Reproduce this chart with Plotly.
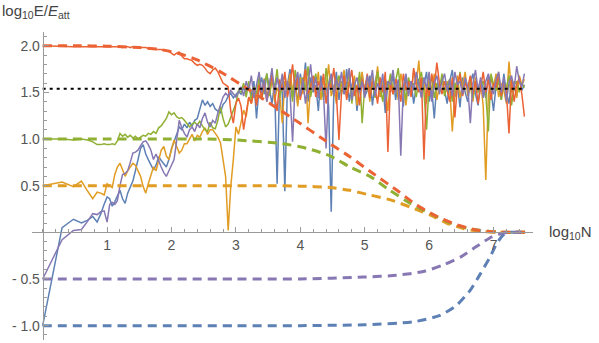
import numpy as np
import plotly.graph_objects as go

# sample positions (log10 N): first ten integer N, then an even grid in log10 N
log_n_start = np.log10(np.arange(1, 11))
log_n_grid = np.round(np.arange(1.04, 7.481, 0.04), 2)
log_n = np.concatenate([log_n_start, log_n_grid])

# simulated runs
blue_run = [-1.0, 0.05, 0.14, 0.10, 0.13, 0.17, 0.11, 0.20, 0.30, 0.38,
    0.36, 0.28, 0.33, 0.40, 0.45, 0.36, 0.31, 0.42, 0.49, 0.55,
    0.66, 0.80, 0.90, 0.94, 0.84, 0.78, 0.73, 0.67, 0.72, 0.81,
    0.77, 0.74, 0.70, 0.78, 0.90, 0.97, 1.05, 1.13, 1.10, 1.16,
    1.12, 1.18, 1.14, 1.20, 1.22, 1.32, 1.42, 1.36, 1.40, 1.35,
    1.38, 1.32, 1.30, 1.28, 1.37, 1.40, 1.46, 1.49, 1.44, 1.47,
    1.51, 1.48, 1.55, 1.50, 1.58, 1.46, 1.62, 1.22, 1.55, 1.66,
    1.48, 1.70, 1.55, 1.38, 1.60, 0.52, 1.62, 1.50, 0.44, 1.58,
    1.75, 1.45, 1.62, 1.38, 1.70, 1.52, 1.82, 1.40, 1.66, 1.50,
    1.58, 1.30, 1.68, 1.45, 1.60, 1.35, 0.22, 1.50, 1.72, 1.42,
    1.62, 1.48, 1.75, 1.40, 1.58, 1.66, 1.30, 1.55, 1.70, 1.46,
    1.52, 1.68, 1.36, 1.60, 1.74, 1.45, 1.58, 1.28, 1.62, 1.50,
    1.70, 1.42, 1.60, 1.54, 1.35, 1.68, 1.50, 1.62, 1.38, 1.56,
    1.64, 1.46, 1.58, 1.72, 1.40, 1.55, 1.22, 1.60, 1.48, 1.66,
    1.52, 1.38, 1.62, 1.74, 1.45, 1.58, 1.34, 1.66, 1.50, 1.40,
    1.60, 1.70, 1.48, 1.36, 1.62, 1.55, 1.44, 1.68, 1.52, 1.30,
    1.58, 1.64, 1.42, 1.70, 1.50, 1.38, 1.62, 1.56, 1.46, 1.66,
    1.52, 1.58]

orange_run = [0.50, 0.54, 0.49, 0.55, 0.44, 0.36, 0.43, 0.42, 0.40, 0.52,
    0.50, 0.48, 0.62, 0.70, 0.74, 0.66, 0.60, 0.66, 0.70, 0.74,
    0.72, 0.66, 0.60, 0.49, 0.42, 0.52, 0.62, 0.70, 0.66, 0.76,
    0.88, 0.92, 0.82, 0.78, 0.90, 0.99, 0.92, 0.85, 0.88, 0.95,
    0.95, 1.00, 1.05, 0.98, 1.04, 1.02, 1.08, 1.12, 1.05, 1.10,
    1.10, 1.06, 1.02, 0.96, 0.78, 0.60, 0.02, 0.49, 0.78, 1.13,
    1.05, 1.20, 1.31, 1.24, 1.45, 1.38, 1.55, 1.42, 1.60, 1.50,
    1.65, 1.45, 1.58, 1.72, 1.40, 1.55, 1.48, 1.17, 1.62, 1.50,
    1.70, 1.52, 1.60, 1.35, 1.66, 1.48, 1.75, 1.17, 1.58, 1.64,
    1.50, 1.72, 1.42, 1.62, 1.55, 1.80, 1.46, 1.58, 1.38, 1.65,
    1.56, 1.74, 1.44, 1.62, 1.50, 1.68, 1.36, 1.58, 1.72, 1.48,
    1.60, 1.40, 1.66, 1.52, 1.78, 1.45, 1.62, 1.55, 1.30, 1.68,
    1.52, 1.64, 1.42, 1.70, 1.56, 1.36, 1.62, 1.48, 1.74, 1.58,
    1.84, 1.45, 1.60, 1.38, 1.66, 1.52, 1.70, 1.42, 1.58, 1.64,
    1.48, 1.62, 1.55, 1.08, 1.50, 1.68, 1.44, 1.60, 1.72, 1.46,
    1.58, 1.40, 1.66, 1.52, 1.62, 1.35, 0.56, 1.48, 1.64, 1.56,
    1.70, 1.45, 1.60, 1.52, 1.38, 1.83, 1.50, 1.62, 1.44, 1.68,
    1.58, 1.64]

green_run = [1.00, 1.00, 0.99, 1.00, 0.99, 0.97, 0.94, 0.94, 0.95, 0.94,
    0.94, 0.95, 0.94, 0.98, 1.06, 1.03, 1.05, 1.02, 1.04, 1.01,
    1.03, 1.00, 1.02, 1.04, 1.03, 1.06, 1.05, 1.08, 1.06, 1.12,
    1.14, 1.18, 1.22, 1.29, 1.26, 1.28, 1.24, 1.22, 1.23, 1.20,
    1.16, 1.13, 1.16, 1.18, 1.15, 1.19, 1.14, 1.10, 1.08, 1.18,
    1.12, 1.11, 1.20, 1.35, 1.22, 1.13, 1.16, 1.24, 1.32, 1.38,
    1.52, 1.50, 1.60, 1.45, 1.62, 1.40, 1.56, 1.48, 1.66, 1.42,
    1.58, 1.70, 1.46, 1.62, 1.55, 1.75, 1.44, 1.60, 1.68, 1.52,
    1.62, 1.40, 1.74, 1.56, 1.48, 1.66, 1.52, 1.78, 1.45, 1.60,
    1.70, 1.50, 1.62, 1.42, 1.76, 1.55, 1.64, 1.46, 1.58, 1.68,
    1.48, 1.62, 1.55, 1.70, 1.38, 1.60, 1.50, 1.72, 1.17, 1.56,
    1.66, 1.52, 1.60, 1.44, 1.72, 1.58, 1.40, 1.64, 1.54, 1.70,
    1.48, 1.62, 1.76, 1.50, 1.58, 1.42, 1.66, 1.55, 1.60, 1.45,
    1.62, 1.72, 1.50, 1.10, 1.58, 1.66, 1.44, 1.60, 1.52, 1.70,
    1.46, 1.58, 1.64, 1.40, 1.60, 1.52, 1.72, 1.48, 1.62, 1.55,
    1.66, 1.44, 1.60, 1.50, 1.56, 1.62, 1.48, 1.08, 1.70, 1.58,
    1.52, 1.64, 1.42, 1.60, 1.55, 1.68, 1.36, 1.58, 1.62, 1.50,
    1.60, 1.55]

red_run = [2.00, 1.99, 1.99, 1.99, 1.99, 1.99, 1.99, 1.99, 1.99, 1.99,
    1.99, 1.99, 1.99, 1.99, 1.99, 1.98, 1.99, 1.99, 1.98, 1.99,
    1.99, 1.98, 1.98, 1.98, 1.98, 1.97, 1.97, 1.97, 1.96, 1.96,
    1.96, 1.95, 1.95, 1.94, 1.92, 1.90, 1.92, 1.93, 1.89, 1.86,
    1.86, 1.85, 1.84, 1.81, 1.79, 1.80, 1.79, 1.76, 1.72, 1.70,
    1.74, 1.76, 1.72, 1.66, 1.60, 1.58, 1.56, 1.30, 1.17, 1.38,
    1.44, 1.35, 1.10, 1.28, 1.45, 1.38, 1.52, 1.36, 1.58, 1.44,
    1.62, 1.40, 1.55, 1.68, 1.48, 1.30, 1.64, 1.52, 1.72, 1.45,
    1.58, 1.80, 1.50, 1.66, 1.42, 1.60, 1.74, 1.48, 1.56, 1.68,
    1.45, 1.62, 1.52, 1.70, 1.38, 1.60, 1.55, 1.76, 1.48, 0.99,
    1.50, 1.68, 1.42, 1.60, 1.74, 1.46, 1.58, 1.36, 1.64, 1.52,
    1.70, 1.44, 1.62, 1.55, 1.38, 1.66, 1.50, 1.72, 0.86, 1.60,
    1.48, 1.64, 1.56, 1.40, 1.70, 1.52, 1.62, 1.45, 1.76, 1.58,
    1.50, 1.66, 0.78, 1.58, 1.46, 1.70, 1.55, 1.82, 1.60, 1.48,
    1.62, 1.52, 1.40, 1.66, 1.23, 1.58, 1.70, 1.46, 1.60, 1.54,
    1.68, 1.48, 1.62, 1.38, 1.56, 1.72, 1.50, 1.64, 1.42, 1.60,
    1.55, 1.70, 1.46, 1.62, 1.50, 1.06, 1.64, 1.40, 1.58, 1.66,
    1.48, 1.24]

purple_run = [-0.50, -0.08, 0.02, 0.03, 0.12, 0.20, 0.19, 0.22, 0.23, 0.11,
    0.30, 0.32, 0.30, 0.34, 0.50, 0.62, 0.63, 0.66, 0.75, 0.85,
    0.86, 0.88, 0.93, 0.97, 0.98, 0.94, 0.88, 0.78, 0.84, 0.76,
    0.70, 0.64, 0.60, 0.66, 0.72, 0.78, 0.98, 1.20, 1.12, 1.06,
    1.02, 1.10, 1.13, 1.08, 1.16, 1.12, 1.22, 1.28, 1.18, 1.13,
    1.20, 1.17, 1.28, 1.36, 1.45, 1.49, 1.46, 1.52, 1.48, 1.45,
    1.50, 1.56, 1.46, 1.62, 1.52, 1.68, 1.44, 1.58, 1.72, 1.50,
    1.64, 1.40, 1.58, 1.76, 1.48, 1.66, 1.52, 1.70, 1.44, 1.62,
    1.50, 0.97, 1.60, 1.72, 1.46, 1.64, 1.38, 1.58, 1.80, 1.52,
    1.66, 1.44, 1.62, 1.50, 0.90, 1.58, 1.70, 1.46, 1.64, 1.55,
    1.72, 1.48, 1.60, 1.76, 1.42, 1.58, 1.66, 1.50, 1.62, 1.44,
    1.68, 1.56, 1.74, 1.46, 1.60, 1.52, 1.70, 1.40, 1.62, 1.58,
    1.74, 1.50, 1.64, 0.82, 1.56, 1.70, 1.46, 1.62, 1.52, 1.72,
    1.58, 1.44, 1.66, 1.54, 1.72, 1.40, 1.60, 1.68, 1.50, 1.62,
    1.70, 1.52, 1.64, 1.46, 1.72, 1.58, 1.62, 1.48, 1.66, 1.56,
    1.17, 1.60, 1.74, 1.52, 1.66, 1.44, 1.62, 1.70, 1.56, 1.48,
    1.64, 1.72, 1.50, 1.66, 1.40, 1.60, 1.68, 1.54, 1.78, 1.62,
    1.56, 1.70]

# analytic curves (dashed)
red_curve_x = [0, 0.5, 1.0, 1.5, 1.82, 2.1, 2.39, 2.76, 3.22, 3.84, 4.46, 4.77, 5.13, 5.5, 5.81, 6.12, 6.43, 6.74, 7.0, 7.2, 7.49]
red_curve_y = [2.0, 2.0, 1.995, 1.98, 1.96, 1.92, 1.85, 1.72, 1.52, 1.24, 0.95, 0.81, 0.63, 0.45, 0.29, 0.17, 0.08, 0.025, 0.005, 0.0, 0.0]
green_curve_x = [0, 1.0, 2.0, 2.5, 3.0, 3.73, 4.1, 4.46, 4.77, 5.08, 5.39, 5.71, 6.02, 6.33, 6.64, 6.95, 7.2, 7.49]
green_curve_y = [1.0, 1.0, 1.0, 1.0, 0.99, 0.95, 0.9, 0.82, 0.70, 0.60, 0.45, 0.31, 0.20, 0.10, 0.035, 0.01, 0.0, 0.0]
orange_curve_x = [0, 1.0, 2.0, 3.0, 3.5, 4.0, 4.46, 4.77, 5.08, 5.39, 5.71, 6.02, 6.27, 6.53, 6.8, 7.1, 7.49]
orange_curve_y = [0.5, 0.5, 0.5, 0.5, 0.5, 0.495, 0.48, 0.45, 0.40, 0.35, 0.27, 0.185, 0.10, 0.04, 0.01, 0.0, 0.0]
purple_curve_x = [0, 1.0, 2.0, 3.0, 4.0, 4.98, 5.5, 5.91, 6.22, 6.5, 6.74, 6.97, 7.18, 7.35, 7.49]
purple_curve_y = [-0.5, -0.5, -0.5, -0.5, -0.5, -0.48, -0.46, -0.42, -0.35, -0.26, -0.15, -0.05, -0.005, 0.0, 0.0]
blue_curve_x = [0, 1.0, 2.0, 3.0, 4.0, 5.0, 5.75, 6.17, 6.43, 6.64, 6.8, 6.95, 7.05, 7.15, 7.25, 7.37, 7.49]
blue_curve_y = [-1.0, -1.0, -1.0, -1.0, -1.0, -0.99, -0.96, -0.89, -0.78, -0.62, -0.44, -0.26, -0.12, -0.03, 0.0, 0.0, 0.0]

plateau_x = [0, 7.46]
plateau_y = [1.54, 1.54]

x_ticks = [1, 2, 3, 4, 5, 6, 7]
y_ticks = [-1.0, -0.5, 0.5, 1.0, 1.5, 2.0]
y_tick_text = ["- 1.0", "- 0.5", "0.5", "1.0", "1.5", "2.0"]

colors = {"blue": "#5E81B5", "orange": "#E19C24", "green": "#8FB032",
          "red": "#EB6235", "purple": "#8778B3"}

fig = go.Figure()

runs = [("blue", blue_run), ("orange", orange_run), ("green", green_run),
        ("red", red_run), ("purple", purple_run)]
for name, ys in runs:
    fig.add_trace(go.Scatter(x=log_n, y=ys, mode="lines",
                             line=dict(color=colors[name], width=1.5)))

curves = [("blue", blue_curve_x, blue_curve_y), ("orange", orange_curve_x, orange_curve_y),
          ("green", green_curve_x, green_curve_y), ("red", red_curve_x, red_curve_y),
          ("purple", purple_curve_x, purple_curve_y)]
for name, cx, cy in curves:
    fig.add_trace(go.Scatter(x=cx, y=cy, mode="lines",
                             line=dict(color=colors[name], width=3, dash="9px,6px",
                                       shape="spline", smoothing=0.6)))

fig.add_trace(go.Scatter(x=plateau_x, y=plateau_y, mode="lines",
                         line=dict(color="black", width=2, dash="3px,4px")))

x_lo, x_hi = -0.166, 7.613
y_lo, y_hi = -1.154, 2.147
axis_grey = "#9a9a9a"
tick_font = dict(family="Liberation Sans, Arial, sans-serif", size=14, color="#555555")

fig.update_layout(
    width=599, height=343,
    margin=dict(l=32, r=66, t=32, b=3),
    paper_bgcolor="white", plot_bgcolor="white",
    showlegend=False,
    xaxis=dict(range=[x_lo, x_hi], anchor="free", position=(0 - y_lo) / (y_hi - y_lo),
               showgrid=False, zeroline=False, showline=True, linecolor=axis_grey, linewidth=1,
               tickmode="array", tickvals=x_ticks, ticktext=[str(t) for t in x_ticks],
               ticks="inside", ticklen=5, tickcolor=axis_grey, tickfont=tick_font,
               minor=dict(tickmode="linear", tick0=0, dtick=0.2, ticks="inside",
                          ticklen=3, tickcolor=axis_grey, showgrid=False)),
    yaxis=dict(range=[y_lo, y_hi], anchor="free", position=(0 - x_lo) / (x_hi - x_lo),
               showgrid=False, zeroline=False, showline=True, linecolor=axis_grey, linewidth=1,
               tickmode="array", tickvals=y_ticks, ticktext=y_tick_text,
               ticks="inside", ticklen=5, tickcolor=axis_grey, tickfont=tick_font,
               minor=dict(tickmode="linear", tick0=0, dtick=0.1, ticks="inside",
                          ticklen=3, tickcolor=axis_grey, showgrid=False)),
)

label_font = dict(family="Liberation Sans, Arial, sans-serif", size=15, color="#444444")
fig.add_annotation(xref="paper", yref="paper", x=-0.064, y=1.065, xanchor="left", yanchor="middle",
                   text="log<sub>10</sub>E/<i>E</i><sub>att</sub>", showarrow=False, font=label_font)
fig.add_annotation(xref="paper", yref="paper", x=1.028, y=0.35, xanchor="left", yanchor="middle",
                   text="log<sub>10</sub>N", showarrow=False, font=label_font)

# the page's default body margin would shift the figure by 8px
fig.write_html("out.html", config={"displayModeBar": False},
               post_script="document.body.style.margin='0';")
